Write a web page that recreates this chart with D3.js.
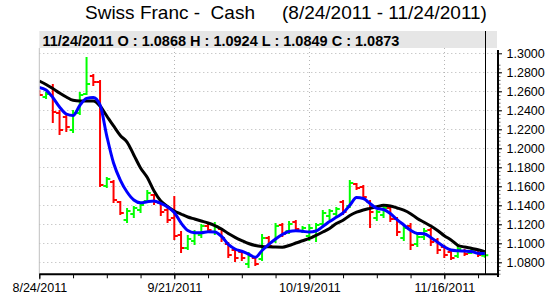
<!DOCTYPE html>
<html><head><meta charset="utf-8">
<script src="https://cdn.jsdelivr.net/npm/d3@7"></script>
<style>body{margin:0;background:#fff}svg{display:block;font-family:"Liberation Sans",Arial,sans-serif}</style>
</head><body><svg id="c" width="546" height="296"></svg>
<script>
const titleMain = "Swiss Franc -  Cash";
const titleRange = "(8/24/2011 - 11/24/2011)";
const lastDate = "11/24/2011";
const open = [1.2603,1.2540,1.2645,1.2372,1.2330,1.2193,1.2372,1.2572,1.2761,1.2698,
1.1603,1.1645,1.1435,1.1245,1.1308,1.1351,1.1445,1.1509,1.1424,1.1351,
1.1266,1.1087,1.0951,1.1024,1.1087,1.1182,1.1119,1.1151,1.0993,1.0929,
1.0908,1.0782,1.0845,1.0835,1.1056,1.1024,1.1193,1.1129,1.1224,1.1129,
1.1077,1.1077,1.1203,1.1287,1.1308,1.1435,1.1393,1.1624,1.1593,1.1435,
1.1266,1.1298,1.1372,1.1256,1.1056,1.1182,1.0993,1.1066,1.1140,1.1035,
1.0961,1.0908,1.0866,1.0919,1.0898,1.0929,1.0868];
const high = [1.2614,1.2593,1.2677,1.2403,1.2351,1.2403,1.2593,1.2961,1.2782,1.2719,
1.1698,1.1666,1.1445,1.1372,1.1393,1.1424,1.1561,1.1519,1.1456,1.1382,
1.1498,1.1129,1.1087,1.1140,1.1203,1.1203,1.1224,1.1161,1.1014,1.0951,
1.0929,1.0908,1.0866,1.1098,1.1077,1.1214,1.1214,1.1235,1.1245,1.1182,
1.1203,1.1214,1.1351,1.1361,1.1382,1.1456,1.1666,1.1635,1.1614,1.1456,
1.1351,1.1403,1.1393,1.1277,1.1193,1.1214,1.1108,1.1161,1.1161,1.1056,
1.0982,1.0919,1.0982,1.0940,1.0961,1.0940,1.0924];
const low = [1.2551,1.2519,1.2266,1.2140,1.2172,1.2161,1.2351,1.2561,1.2656,1.1593,
1.1582,1.1424,1.1298,1.1214,1.1266,1.1319,1.1424,1.1403,1.1287,1.1214,
1.1035,1.0898,1.0929,1.0982,1.1056,1.1119,1.1087,1.1014,1.0845,1.0803,
1.0814,1.0740,1.0761,1.0814,1.0951,1.1003,1.1066,1.1098,1.1129,1.1108,
1.1024,1.1014,1.1172,1.1245,1.1277,1.1298,1.1372,1.1561,1.1466,1.1161,
1.1235,1.1266,1.1224,1.1077,1.1024,1.0929,1.0961,1.1035,1.0972,1.0887,
1.0845,1.0824,1.0845,1.0866,1.0887,1.0856,1.0849];
const close = [1.2561,1.2572,1.2382,1.2193,1.2224,1.2372,1.2561,1.2677,1.2698,1.1614,
1.1677,1.1456,1.1319,1.1340,1.1372,1.1403,1.1529,1.1435,1.1329,1.1245,
1.1077,1.0951,1.1045,1.1108,1.1182,1.1140,1.1182,1.1056,1.0877,1.0845,
1.0845,1.0866,1.0782,1.1056,1.0972,1.1182,1.1098,1.1203,1.1151,1.1161,
1.1161,1.1193,1.1319,1.1340,1.1361,1.1329,1.1635,1.1582,1.1487,1.1329,
1.1329,1.1372,1.1256,1.1119,1.1161,1.0982,1.1066,1.1129,1.1014,1.0929,
1.0877,1.0845,1.0940,1.0887,1.0929,1.0877,1.0873];
const maFast = [1.2640,1.2614,1.2535,1.2435,1.2361,1.2345,1.2450,1.2525,1.2535,1.2456,
1.2129,1.1845,1.1666,1.1540,1.1456,1.1427,1.1438,1.1445,1.1419,1.1382,
1.1324,1.1214,1.1135,1.1112,1.1112,1.1122,1.1119,1.1072,1.0988,1.0940,
1.0916,1.0887,1.0852,1.0924,1.0988,1.1045,1.1093,1.1124,1.1132,1.1126,
1.1119,1.1129,1.1177,1.1229,1.1274,1.1319,1.1400,1.1482,1.1472,1.1419,
1.1368,1.1356,1.1313,1.1250,1.1193,1.1137,1.1104,1.1100,1.1061,1.1011,
1.0963,1.0929,1.0921,1.0918,1.0914,1.0895,1.0892];
const maSlow = [1.2708,1.2672,1.2629,1.2582,1.2540,1.2505,1.2498,1.2498,1.2498,1.2445,
1.2340,1.2235,1.2135,1.2066,1.1930,1.1793,1.1692,1.1550,1.1445,1.1388,
1.1340,1.1308,1.1277,1.1256,1.1235,1.1214,1.1187,1.1151,1.1103,1.1063,
1.1029,1.0998,1.0977,1.0967,1.0963,1.0960,1.0959,1.0977,1.1003,1.1027,
1.1051,1.1084,1.1119,1.1156,1.1208,1.1243,1.1292,1.1327,1.1351,1.1368,
1.1384,1.1400,1.1393,1.1372,1.1348,1.1312,1.1262,1.1222,1.1182,1.1135,
1.1080,1.1035,1.0979,1.0961,1.0947,1.0932,1.0911];
const yTicks = [1.08,1.10,1.12,1.14,1.16,1.18,1.20,1.22,1.24,1.26,1.28,1.30];
const xTickIndex = [0,20,40,60];
const xTickLabels = ["8/24/2011","9/21/2011","10/19/2011","11/16/2011"];
const weekIndex = [0,5,10,15,20,25,30,35,40,45,50,55,60,65];

const n = open.length;
const svg = d3.select("#c");
const L = 39.3, R = 498, B = 274.3, T = 48;
const x = d3.scaleLinear().domain([0, n-1]).range([39.3, 484.8]);
const y = d3.scaleLinear().domain([1.08, 1.30]).range([262.3, 53.3]);

// title
svg.append("text").attr("x",85).attr("y",19).attr("font-size",19).style("white-space","pre").text(titleMain);
svg.append("text").attr("x",282).attr("y",19).attr("font-size",19).style("white-space","pre").text(titleRange);

// header bar
svg.append("rect").attr("x",L).attr("y",31).attr("width",R-L-1).attr("height",T-31).attr("fill","#e6e6e6");
const c = n-1;
svg.append("text").attr("x",42.5).attr("y",45.5).attr("font-size",14.5).attr("font-weight","bold")
  .style("white-space","pre")
  .text(`${lastDate} O : ${open[c].toFixed(4)} H : ${high[c].toFixed(4)} L : ${low[c].toFixed(4)} C : ${close[c].toFixed(4)}`);

// grid
const grid = svg.append("g").attr("stroke","#b4b4b4").attr("stroke-width",1).attr("stroke-dasharray","1,3");
grid.selectAll("line.h").data(yTicks).join("line").attr("class","h")
  .attr("x1",L).attr("x2",R).attr("y1",d=>Math.round(y(d))+0.5).attr("y2",d=>Math.round(y(d))+0.5);
grid.selectAll("line.v").data(xTickIndex.slice(1)).join("line").attr("class","v")
  .attr("x1",d=>Math.round(x(d))+0.5).attr("x2",d=>Math.round(x(d))+0.5).attr("y1",T).attr("y2",B);
svg.append("line").attr("x1",L).attr("x2",L).attr("y1",T).attr("y2",B).attr("stroke","#c0c0c0");

// clip
svg.append("clipPath").attr("id","clip").append("rect").attr("x",L+0.5).attr("y",T).attr("width",R-L-1).attr("height",B-T);
const plot = svg.append("g").attr("clip-path","url(#clip)");

// OHLC bars
plot.selectAll("path.bar").data(d3.range(n)).join("path").attr("class","bar")
  .attr("fill","none").attr("stroke-width",2)
  .attr("stroke",i=> close[i] >= open[i] ? "#00ff00" : "#ff0000")
  .attr("d",i=>{
    const xi = x(i);
    return `M${xi},${y(high[i])}V${y(low[i])}M${xi-3.5},${y(open[i])}H${xi}M${xi},${y(close[i])}H${xi+3.5}`;
  });

// moving averages
const lineGen = arr => d3.line().x((d,i)=>x(i)).y(d=>y(d)).curve(d3.curveMonotoneX)(arr);
plot.append("path").attr("d",lineGen(maSlow)).attr("fill","none").attr("stroke","#000").attr("stroke-width",3);
plot.append("path").attr("d",lineGen(maFast)).attr("fill","none").attr("stroke","#0000ff").attr("stroke-width",3);

// cursor line
svg.append("line").attr("x1",Math.round(x(c))+0.5).attr("x2",Math.round(x(c))+0.5).attr("y1",31).attr("y2",B)
  .attr("stroke","#000").attr("stroke-width",1);

// x axis
const xMinor = svg.append("g").attr("transform",`translate(0,${B})`)
  .call(d3.axisBottom(x).tickValues(weekIndex).tickSize(4).tickFormat(""));
xMinor.select(".domain").remove();
const xMajor = svg.append("g").attr("transform",`translate(0,${B})`)
  .call(d3.axisBottom(x).tickValues(xTickIndex).tickSize(5).tickFormat((d,i)=>xTickLabels[i]));
xMajor.select(".domain").remove();
xMajor.selectAll("text").attr("y",17.5).attr("dy",0).attr("font-size",12.5).attr("fill","#000")
  .attr("font-family","'Liberation Sans',Arial,sans-serif");
svg.selectAll(".tick line").attr("stroke","#000");
svg.append("line").attr("x1",L).attr("x2",R+1).attr("y1",B).attr("y2",B).attr("stroke","#000").attr("stroke-width",2);

// y axis
const yMinorVals = d3.range(0, 56).map(k => 1.068 + k*0.004).filter(v => v <= 1.3001);
const yMinor = svg.append("g").attr("transform",`translate(${R},0)`)
  .call(d3.axisRight(y).tickValues(yMinorVals).tickSize(2.5).tickFormat(""));
yMinor.select(".domain").remove();
yMinor.selectAll("line").attr("stroke","#666");
const yMajor = svg.append("g").attr("transform",`translate(${R},0)`)
  .call(d3.axisRight(y).tickValues(yTicks).tickSize(4).tickPadding(4.5).tickFormat(d3.format(".4f")));
yMajor.select(".domain").remove();
yMajor.selectAll("line").attr("stroke","#000");
yMajor.selectAll("text").attr("font-size",12.5).attr("fill","#000")
  .attr("font-family","'Liberation Sans',Arial,sans-serif");
svg.append("line").attr("x1",R).attr("x2",R).attr("y1",50).attr("y2",277).attr("stroke","#000").attr("stroke-width",2);
</script></body></html>
